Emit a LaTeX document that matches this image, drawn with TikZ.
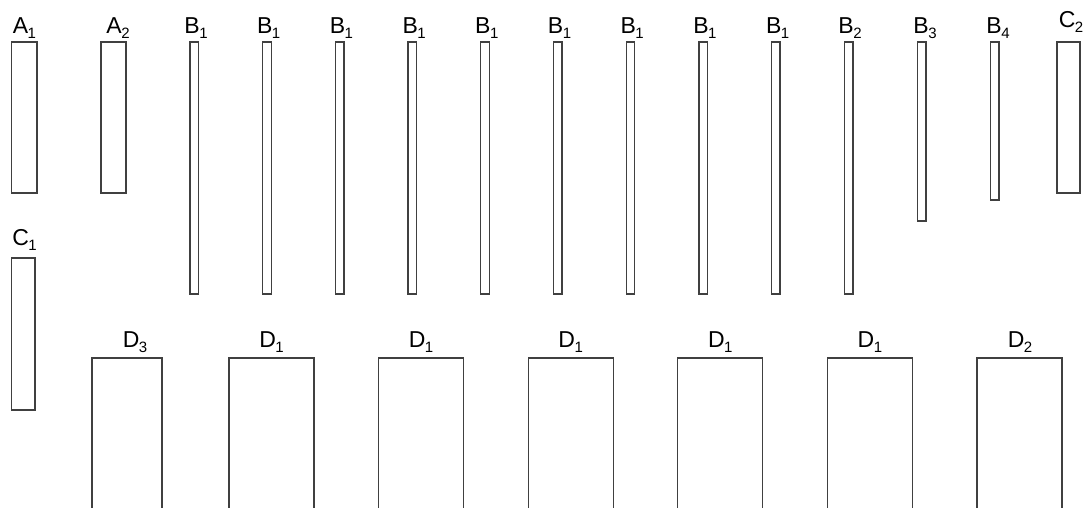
\documentclass[tikz,border=0pt]{standalone}
\usepackage{fontspec}
\setmainfont{Liberation Sans}
\newcommand\lbsub[2]{#1\kern-0.5pt\raisebox{-5pt}{\fontsize{15}{15}\selectfont #2}}
\tikzset{
  bar/.style={draw=black!75, line width=1.3pt, fill=none},
  lab/.style={anchor=base, inner sep=0pt, font=\fontsize{23}{23}\selectfont, text=black}
}
\begin{document}
\begin{tikzpicture}[x=1pt,y=-1pt]
\useasboundingbox (0,0) rectangle (1083,508);
\clip (0,0) rectangle (1083,508);
% top row
\draw[bar] (11.5,42) rectangle (37,193) coordinate (A1);
\node[lab] (lA1) at (24.5,34) {\lbsub{A}{1}};
\draw[bar] (101,42) rectangle (126,193) coordinate (A2);
\node[lab] (lA2) at (118,34) {\lbsub{A}{2}};
\foreach \i in {0,...,8} {
  \pgfmathsetmacro\xl{190+72.7*\i}
  \draw[bar] (\xl,42) rectangle ({\xl+8.5},294);
  \node[lab] (lB\i) at ({\xl+6},34) {\lbsub{B}{1}};
}
\draw[bar] (844.5,42) rectangle (853,294) coordinate (B2);
\node[lab] (lB2) at (850,34) {\lbsub{B}{2}};
\draw[bar] (917.5,42) rectangle (926,221) coordinate (B3);
\node[lab] (lB3) at (925,34) {\lbsub{B}{3}};
\draw[bar] (990.5,42) rectangle (999,200) coordinate (B4);
\node[lab] (lB4) at (998,34) {\lbsub{B}{4}};
\draw[bar] (1057,42) rectangle (1080,193) coordinate (C2);
\node[lab] (lC2) at (1071,28) {\lbsub{C}{2}};
% C1
\draw[bar] (11.5,258) rectangle (35,410) coordinate (C1);
\node[lab] (lC1) at (24.5,245) {\lbsub{C}{1}};
% bottom row
\draw[bar] (92,520) -- (92,358) -- (162,358) -- (162,520);
\node[lab] (lD3) at (135,347) {\lbsub{D}{3}};
\foreach \i in {0,...,4} {
  \pgfmathsetmacro\xl{229+149.6*\i}
  \draw[bar] (\xl,520) -- (\xl,358) -- ({\xl+85},358) -- ({\xl+85},520);
  \node[lab] (lD\i) at ({\xl+42.5},347) {\lbsub{D}{1}};
}
\draw[bar] (977,520) -- (977,358) -- (1062,358) -- (1062,520);
\node[lab] (lD2) at (1020,347) {\lbsub{D}{2}};
\end{tikzpicture}
\end{document}
